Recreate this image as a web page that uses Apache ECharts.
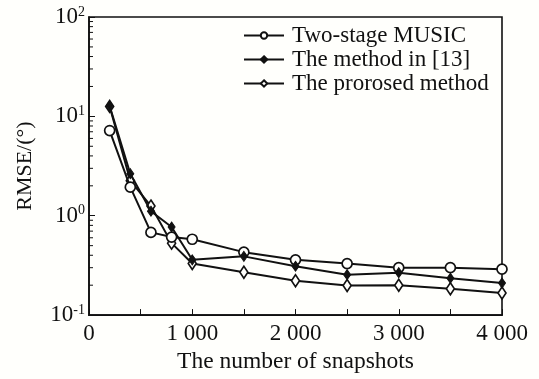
<!DOCTYPE html>
<html><head><meta charset="utf-8">
<script src="https://cdn.jsdelivr.net/npm/echarts@6/dist/echarts.min.js"></script>
<style>html,body{margin:0;padding:0;background:#fffffc}#c{width:539px;height:379px}</style>
</head><body><div id="c"></div>
<script>
const snapshots = [200, 400, 600, 800, 1000, 1500, 2000, 2500, 3000, 3500, 4000];
const twoStageMusic = [7.2, 1.94, 0.68, 0.61, 0.58, 0.43, 0.36, 0.33, 0.30, 0.30, 0.29];
const methodIn13 = [12.7, 2.65, 1.11, 0.77, 0.36, 0.39, 0.31, 0.255, 0.267, 0.235, 0.21];
const proposedMethod = [12.6, 2.25, 1.25, 0.53, 0.33, 0.27, 0.222, 0.199, 0.20, 0.184, 0.167];
const seriesNames = ['Two-stage MUSIC', 'The method in [13]', 'The prorosed method'];
const minorTickValues = [0.2,0.3,0.4,0.5,0.6,0.7,0.8,0.9,2,3,4,5,6,7,8,9,20,30,40,50,60,70,80,90];

const FONT = '"Liberation Serif", "Times New Roman", serif';
const FS = 23;
const pair = arr => snapshots.map((x, i) => [x, arr[i]]);
const diamond = 'path://M0,-10L6,0L0,10L-6,0Z';
const lineStyle = {color: '#111', width: 2};

const chart = echarts.init(document.getElementById('c'), null, {renderer: 'canvas'});
chart.setOption({
  backgroundColor: '#fffffc',
  animation: false,
  grid: {left: 89, right: 37, top: 17, bottom: 61, show: true, borderColor: '#111', borderWidth: 1.6, backgroundColor: 'transparent'},
  legend: {
    orient: 'vertical', left: 238, top: 19, itemWidth: 40, itemHeight: 8, itemGap: 1,
    data: seriesNames,
    textStyle: {fontFamily: FONT, fontSize: FS, color: '#111', lineHeight: 23, padding: [0,0,0,3]}
  },
  xAxis: {
    type: 'value', min: 0, max: 4000, interval: 500,
    name: 'The number of snapshots', nameLocation: 'middle', nameGap: 31,
    nameTextStyle: {fontFamily: FONT, fontSize: 23.5, color: '#111'},
    axisLine: {lineStyle: {color: '#111', width: 1.6}},
    axisTick: {inside: true, length: 6, lineStyle: {color: '#111', width: 1}},
    axisLabel: {fontFamily: FONT, fontSize: FS, color: '#111', margin: 7,
      formatter: v => v % 1000 === 0 ? (v === 0 ? '0' : (v/1000) + ' 000') : ''},
    splitLine: {show: false}
  },
  yAxis: {
    type: 'log', logBase: 10, min: 0.1, max: 100,
    name: 'RMSE/(°)', nameLocation: 'middle', nameGap: 53,
    nameTextStyle: {fontFamily: FONT, fontSize: 22, color: '#111'},
    axisLine: {lineStyle: {color: '#111', width: 1.6}},
    axisTick: {inside: true, length: 6, lineStyle: {color: '#111', width: 1}},
    axisLabel: {margin: 4, color: '#111',
      formatter: v => '{b|10}{s|' + Math.round(Math.log10(v)) + '}',
      rich: {b: {fontFamily: FONT, fontSize: FS, color: '#111'}, s: {fontFamily: FONT, fontSize: 14, color: '#111', verticalAlign: 'top', padding: [0,0,10,0]}}},
    splitLine: {show: false}
  },
  series: [
    {name: seriesNames[0], type: 'line', data: pair(twoStageMusic), symbol: 'circle', symbolSize: 10,
     lineStyle, itemStyle: {color: '#fffffc', borderColor: '#111', borderWidth: 1.7}, z: 3},
    {name: seriesNames[1], type: 'line', data: pair(methodIn13), symbol: diamond, symbolSize: [7, 10],
     lineStyle, itemStyle: {color: '#111', borderColor: '#111', borderWidth: 1}, z: 4},
    {name: seriesNames[2], type: 'line', data: pair(proposedMethod), symbol: diamond, symbolSize: [8, 12],
     lineStyle, itemStyle: {color: '#fffffc', borderColor: '#111', borderWidth: 1.7}, z: 2},
    {type: 'custom', silent: true, data: minorTickValues.map(v => [0, v]), z: 5,
     renderItem: (params, api) => {
       const p = api.coord([0, api.value(1)]);
       return {type: 'line', shape: {x1: p[0], y1: p[1], x2: p[0] + 4, y2: p[1]}, style: {stroke: '#111', lineWidth: 1}};
     }}
  ]
});
</script></body></html>
